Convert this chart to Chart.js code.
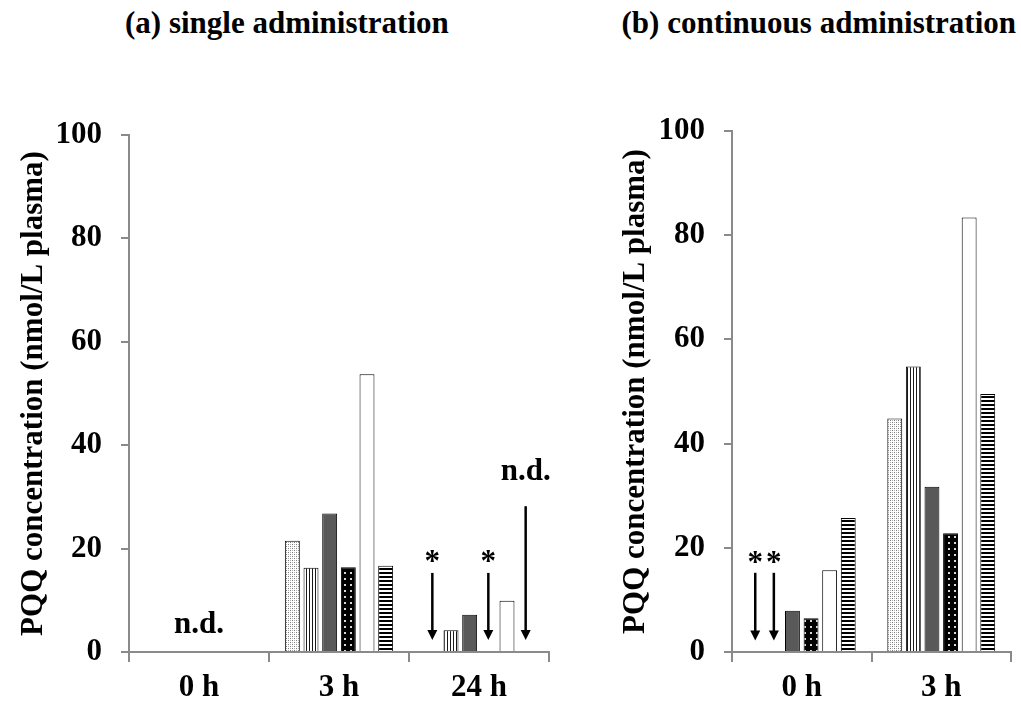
<!DOCTYPE html>
<html>
<head>
<meta charset="utf-8">
<script src="https://cdn.jsdelivr.net/npm/chart.js@4.4.1/dist/chart.umd.min.js"></script>
<style>
  body { margin: 0; background: #fff; width: 1021px; height: 704px; position: relative; overflow: hidden; font-family: 'Liberation Serif', 'Times New Roman', serif; }
  .ttl { position: absolute; top: 7px; font-weight: bold; font-size: 31px; line-height: 31px; white-space: nowrap; color: #000; }
  canvas { position: absolute; top: 0; }
</style>
</head>
<body>
<div class="ttl" style="left:125px">(a) single administration</div>
<div class="ttl" style="right:5px">(b) continuous administration</div>
<canvas id="chartA" width="560" height="704" style="left:0"></canvas>
<canvas id="chartB" width="411" height="704" style="left:610px"></canvas>
<script>
// y axis range
const yMin = 0;
const yMax = 100;
const yStep = 20;

// (a) single administration -- null = not detected
const catsA = ['0 h', '3 h', '24 h'];
const dotA   = [null, 21.5, null];
const vlineA = [null, 16.3, 4.2];
const darkA  = [null, 26.8, 7.2];
const bdotA  = [null, 16.4, null];
const whiteA = [null, 53.7, 9.9];
const hlineA = [null, 16.7, null];

// (b) continuous administration
const catsB = ['0 h', '3 h'];
const dotB   = [null, 44.8];
const vlineB = [null, 54.8];
const darkB  = [7.9, 31.7];
const bdotB  = [6.5, 22.8];
const whiteB = [15.7, 83.4];
const hlineB = [25.7, 49.5];

// arrows (dataset, category, from value, to value) and marks
const arrowsA = [
    { ds: 0, cat: 2, from: 15.3, to: 2.3 },
    { ds: 3, cat: 2, from: 15.3, to: 2.3 },
    { ds: 5, cat: 2, from: 28.2, to: 2.3 }
];
const marksA = [
    { text: 'n.d.', cat: 0, y: 3.6 },
    { text: '*', ds: 0, cat: 2, y: 15.6 },
    { text: '*', ds: 3, cat: 2, y: 15.6 },
    { text: 'n.d.', ds: 5, cat: 2, y: 33.3 }
];
const arrowsB = [
    { ds: 0, cat: 0, from: 15.2, to: 2.2 },
    { ds: 1, cat: 0, from: 15.2, to: 2.2 }
];
const marksB = [
    { text: '*', ds: 0, cat: 0, y: 15.4 },
    { text: '*', ds: 1, cat: 0, y: 15.4 }
];

const FONT = "'Liberation Serif', 'Times New Roman', serif";
const AXIS_GRAY = '#8a8a8a';

function makePattern(w, h, draw) {
    const c = document.createElement('canvas');
    c.width = w;
    c.height = h;
    const g = c.getContext('2d');
    draw(g);
    return g.createPattern(c, 'repeat');
}

const fillDot = makePattern(4, 4, g => {
    g.fillStyle = '#fff';
    g.fillRect(0, 0, 4, 4);
    g.fillStyle = '#7a7a7a';
    g.fillRect(0, 0, 1, 1);
    g.fillRect(2, 2, 1, 1);
    g.fillStyle = '#b0b0b0';
    g.fillRect(2, 0, 1, 1);
    g.fillRect(0, 2, 1, 1);
});
const fillVline = makePattern(3, 1, g => {
    g.fillStyle = '#fff';
    g.fillRect(0, 0, 3, 1);
    g.fillStyle = '#1a1a1a';
    g.fillRect(0, 0, 1, 1);
});
const fillDark = '#595959';
const fillBdot = makePattern(6, 6, g => {
    g.fillStyle = '#000';
    g.fillRect(0, 0, 6, 6);
    g.fillStyle = '#d8d8d8';
    g.fillRect(2, 2, 2, 2);
});
const fillWhite = '#ffffff';
const fillHline = makePattern(1, 4, g => {
    g.fillStyle = '#fff';
    g.fillRect(0, 0, 1, 4);
    g.fillStyle = '#000';
    g.fillRect(0, 0, 1, 2);
});

const fills = [fillDot, fillVline, fillDark, fillBdot, fillWhite, fillHline];

function makeDatasets(series) {
    return series.map((vals, i) => ({
        data: vals,
        backgroundColor: fills[i],
        borderColor: '#000',
        borderWidth: 1,
        borderSkipped: 'bottom',
        barPercentage: 0.8,
        categoryPercentage: 0.8
    }));
}

// draws n.d. / * marks and the arrows
const notesPlugin = {
    id: 'notes',
    afterDatasetsDraw(chart, args, opts) {
        const ctx = chart.ctx;
        const xs = chart.scales.x;
        const ys = chart.scales.y;
        const xOf = n => n.ds === undefined ? xs.getPixelForValue(n.cat)
                                             : chart.getDatasetMeta(n.ds).data[n.cat].x;
        ctx.save();
        ctx.fillStyle = '#000';
        ctx.strokeStyle = '#000';
        (opts.arrows || []).forEach(a => {
            const x = xOf(a);
            const y0 = ys.getPixelForValue(a.from);
            const y1 = ys.getPixelForValue(a.to);
            ctx.lineWidth = 2.5;
            ctx.beginPath();
            ctx.moveTo(x, y0);
            ctx.lineTo(x, y1 - 8);
            ctx.stroke();
            ctx.beginPath();
            ctx.moveTo(x - 5, y1 - 10);
            ctx.lineTo(x + 5, y1 - 10);
            ctx.lineTo(x, y1);
            ctx.closePath();
            ctx.fill();
        });
        ctx.font = 'bold 31px ' + FONT;
        ctx.textAlign = 'center';
        ctx.textBaseline = 'alphabetic';
        (opts.marks || []).forEach(m => {
            ctx.fillText(m.text, xOf(m), ys.getPixelForValue(m.y));
        });
        ctx.restore();
    }
};

function buildChart(id, cats, series, arrows, marks, yWidth, yTitlePad, padTop, padRight) {
    return new Chart(document.getElementById(id), {
        type: 'bar',
        data: {
            labels: cats,
            datasets: makeDatasets(series)
        },
        plugins: [notesPlugin],
        options: {
            responsive: false,
            animation: false,
            layout: { padding: { left: 0, right: padRight, top: padTop, bottom: 0 } },
            plugins: {
                legend: { display: false },
                tooltip: { enabled: false },
                notes: { arrows: arrows, marks: marks }
            },
            scales: {
                x: {
                    grid: { offset: true, drawOnChartArea: false, drawTicks: true, tickLength: 10, color: AXIS_GRAY, lineWidth: 2 },
                    border: { display: true, color: AXIS_GRAY, width: 2 },
                    ticks: { color: '#000', font: { family: FONT, size: 31, weight: 'bold', lineHeight: 1.2 }, padding: 7, maxRotation: 0 },
                    afterFit(scale) { scale.height = 52; }
                },
                y: {
                    min: yMin,
                    max: yMax,
                    grid: { drawOnChartArea: false, drawTicks: true, tickLength: 8, color: AXIS_GRAY, lineWidth: 2 },
                    border: { display: true, color: AXIS_GRAY, width: 2 },
                    ticks: { stepSize: yStep, color: '#000', font: { family: FONT, size: 31, weight: 'bold' }, padding: 19 },
                    title: {
                        display: true,
                        text: 'PQQ concentration (nmol/L plasma)',
                        color: '#000',
                        font: { family: FONT, size: 31, weight: 'bold', lineHeight: 1.2 },
                        padding: { top: yTitlePad, bottom: 0 }
                    },
                    afterFit(scale) { scale.width = yWidth; }
                }
            }
        }
    });
}

buildChart('chartA', catsA, [dotA, vlineA, darkA, bdotA, whiteA, hlineA], arrowsA, marksA, 129, 15, 135, 11);
buildChart('chartB', catsB, [dotB, vlineB, darkB, bdotB, whiteB, hlineB], arrowsB, marksB, 122, 7, 131, 10);
</script>
</body>
</html>
